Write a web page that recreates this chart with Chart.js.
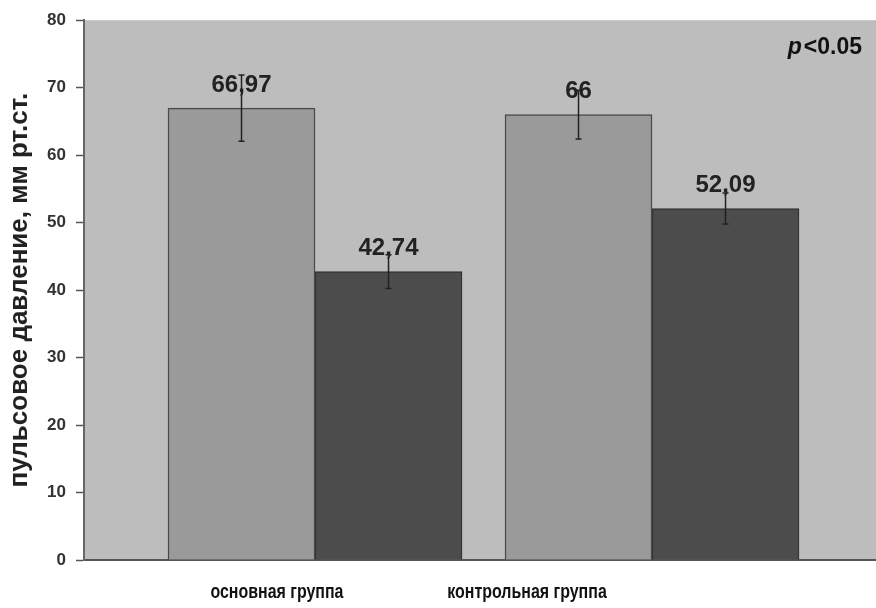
<!DOCTYPE html>
<html>
<head>
<meta charset="utf-8">
<script src="https://cdn.jsdelivr.net/npm/chart.js@4"></script>
<style>
  html, body { margin: 0; background: #fff; }
  #wrap { width: 876px; height: 608px; }
</style>
</head>
<body>
<div id="wrap"><canvas id="pulseChart"></canvas></div>
<script>
// data
const groups = ["основная группа", "контрольная группа"];
const groupX = [1, 2];
const firstValues = [66.97, 66];
const secondValues = [42.74, 52.09];
const firstErrors = [4.9, 3.6];
const secondErrors = [2.5, 2.3];
const pNote = ["p", "<0.05"];

const mainFont = "'Liberation Sans', Arial, sans-serif";

function toPoints(values) {
  return values.map((v, i) => ({ x: groupX[i], y: v }));
}

function formatValue(v) {
  return String(v).replace(".", ",");
}

// gray plot area
const plotBackground = {
  id: "plotBackground",
  beforeDraw(chart) {
    const { ctx, chartArea } = chart;
    ctx.save();
    ctx.fillStyle = "#bdbdbd";
    ctx.fillRect(chartArea.left, chartArea.top, chartArea.right - chartArea.left, chartArea.bottom - chartArea.top);
    ctx.restore();
  }
};

// numbers above the bars
const valueLabels = {
  id: "valueLabels",
  afterDatasetsDraw(chart) {
    const ctx = chart.ctx;
    ctx.save();
    ctx.font = "bold 24px " + mainFont;
    ctx.fillStyle = "#222";
    ctx.textAlign = "center";
    ctx.textBaseline = "middle";
    chart.data.datasets.forEach((ds, di) => {
      chart.getDatasetMeta(di).data.forEach((bar, i) => {
        ctx.fillText(formatValue(ds.data[i].y), bar.x, bar.y - 23);
      });
    });
    ctx.restore();
  }
};

// error whiskers
const errorBars = {
  id: "errorBars",
  afterDatasetsDraw(chart) {
    const ctx = chart.ctx;
    const yScale = chart.scales.y;
    ctx.save();
    ctx.strokeStyle = "#222";
    ctx.lineWidth = 1.5;
    chart.data.datasets.forEach((ds, di) => {
      chart.getDatasetMeta(di).data.forEach((bar, i) => {
        const v = ds.data[i].y;
        const e = ds.errors[i];
        const top = yScale.getPixelForValue(v + e);
        const bottom = yScale.getPixelForValue(v - e);
        ctx.beginPath();
        ctx.moveTo(bar.x, top);
        ctx.lineTo(bar.x, bottom);
        ctx.moveTo(bar.x - 3, top);
        ctx.lineTo(bar.x + 3, top);
        ctx.moveTo(bar.x - 3, bottom);
        ctx.lineTo(bar.x + 3, bottom);
        ctx.stroke();
      });
    });
    ctx.restore();
  }
};

// narrow bold group captions under the axis (no narrow font installed, so squeeze)
const groupCaptions = {
  id: "groupCaptions",
  afterDraw(chart) {
    const ctx = chart.ctx;
    const xScale = chart.scales.x;
    const y = chart.chartArea.bottom + 32;
    ctx.save();
    ctx.fillStyle = "#111";
    ctx.textAlign = "center";
    ctx.textBaseline = "middle";
    ctx.font = "bold 21px " + mainFont;
    xScale.ticks.forEach((t, i) => {
      const x = xScale.getPixelForValue(t.value);
      ctx.save();
      ctx.translate(x, y);
      ctx.scale(0.76, 1);
      ctx.fillText(groups[i], 0, 0);
      ctx.restore();
    });
    ctx.restore();
  }
};

// p value note in the corner
const pValueNote = {
  id: "pValueNote",
  afterDraw(chart) {
    const ctx = chart.ctx;
    const right = chart.chartArea.right - 14;
    const y = chart.chartArea.top + 27;
    ctx.save();
    ctx.fillStyle = "#111";
    ctx.textBaseline = "middle";
    ctx.textAlign = "right";
    ctx.font = "bold 23px " + mainFont;
    ctx.fillText(pNote[1], right, y);
    const w = ctx.measureText(pNote[1]).width;
    ctx.font = "italic bold 23px " + mainFont;
    ctx.fillText(pNote[0], right - w - 2, y);
    ctx.restore();
  }
};

const ctx = document.getElementById("pulseChart").getContext("2d");

new Chart(ctx, {
  type: "bar",
  data: {
    datasets: [
      {
        label: "1",
        data: toPoints(firstValues),
        errors: firstErrors,
        backgroundColor: "#9a9a9a",
        borderColor: "#4a4a4a",
        borderWidth: 1.5
      },
      {
        label: "2",
        data: toPoints(secondValues),
        errors: secondErrors,
        backgroundColor: "#4c4c4c",
        borderColor: "#333",
        borderWidth: 1.5
      }
    ]
  },
  options: {
    responsive: true,
    maintainAspectRatio: false,
    animation: false,
    barThickness: 147,
    layout: { padding: { top: 20, right: 0, left: 0, bottom: 0 } },
    plugins: {
      legend: { display: false },
      tooltip: { enabled: false }
    },
    scales: {
      x: {
        type: "linear",
        min: 0.3145,
        max: 2.6646,
        offset: false,
        grid: { display: false, drawTicks: false },
        border: { display: true, color: "#555", width: 2 },
        afterBuildTicks(scale) {
          // group captions sit a bit left of the bar pairs
          scale.ticks = [{ value: 0.887 }, { value: 1.629 }];
        },
        afterFit(scale) {
          scale.height = 48;
        },
        ticks: { display: false }
      },
      y: {
        min: 0,
        max: 80,
        grid: { drawOnChartArea: false, tickLength: 8, color: "#555", tickWidth: 1.5 },
        border: { display: true, color: "#666", width: 2 },
        afterFit(scale) {
          scale.width = 84;
        },
        ticks: {
          stepSize: 10,
          padding: 10,
          color: "#333",
          font: { family: mainFont, size: 17, weight: "bold" }
        },
        title: {
          display: true,
          text: "пульсовое давление, мм рт.ст.",
          color: "#222",
          padding: { top: 4, bottom: 0 },
          font: { family: mainFont, size: 26, weight: "bold" }
        }
      }
    }
  },
  plugins: [plotBackground, valueLabels, errorBars, groupCaptions, pValueNote]
});
</script>
</body>
</html>
